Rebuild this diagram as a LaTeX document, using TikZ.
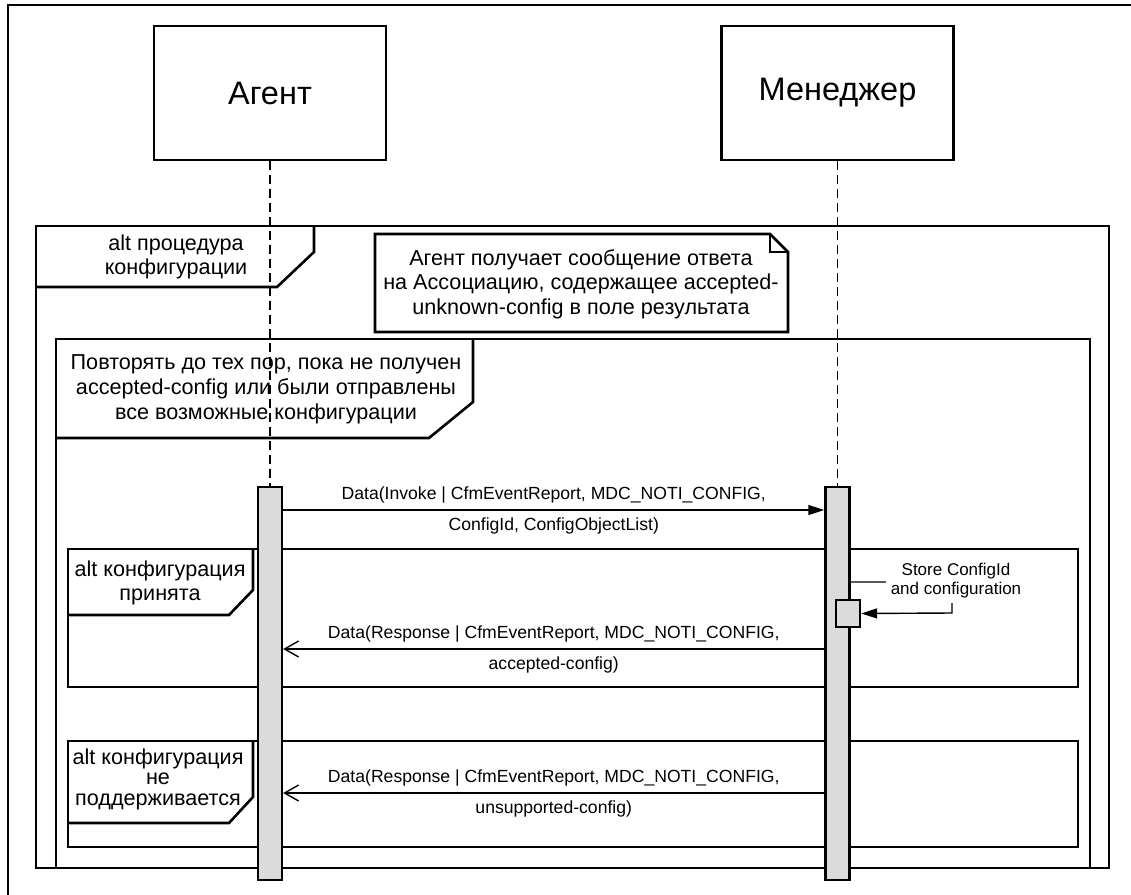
\documentclass[tikz,border=0pt]{standalone}
\usepackage{fontspec}
\setmainfont{Liberation Sans}
\usetikzlibrary{arrows.meta}

\tikzstyle{actor} = [draw, line width=1.3pt, minimum width=116pt, minimum height=67pt, font=\fontsize{16.25}{19}\selectfont]
\tikzstyle{act} = [draw, line width=1.2pt, fill=black!14, minimum width=12pt, minimum height=196.5pt, inner sep=0pt]
\tikzstyle{frame} = [line width=1.3pt]
\tikzstyle{tag} = [align=center, inner sep=0pt]
\tikzstyle{msg} = [line width=0.7pt]
\tikzstyle{msglabel} = [font=\fontsize{8.8}{10}\selectfont, inner sep=0pt]
\tikzstyle{life} = [line width=0.6pt, dash pattern=on 4.5pt off 2.5pt]

\begin{document}
\begin{tikzpicture}[x=0.5pt, y=-0.5pt]
\useasboundingbox (0,0) rectangle (1131,895);
%outer frame
\draw[frame] (8,895) -- (8,5) -- (1131,5);
%begin participants
\node[actor] (agent) at (270,93) {Агент};
\node[actor] (manager) at (837.5,93) {Менеджер};
%end participants
%begin alt procedure
\draw[frame] (36,226) rectangle (1109,868);
\draw[frame] (36,287) -- (277,287) -- (314,252) -- (314,226);
\node[tag, font=\fontsize{10.8}{11.75}\selectfont] (altproc) at (176,257) {alt процедура\\конфигурации};
%end alt procedure
%begin note
\draw[frame] (375,234) -- (770,234) -- (788,252) -- (788,332) -- (375,332) -- cycle;
\draw[frame] (770,234) -- (770,252) -- (788,252);
\node[tag, font=\fontsize{10.8}{12.25}\selectfont] (note) at (581,284) {Агент получает сообщение ответа\\на Ассоциацию, содержащее accepted-\\unknown-config в поле результата};
%end note
%begin loop
\draw[frame] (56,339) rectangle (1090,868);
\draw[frame] (56,438) -- (429,438) -- (473,402) -- (473,339);
\node[tag, font=\fontsize{10.8}{12.5}\selectfont] (loop) at (266,389) {Повторять до тех пор, пока не получен\\accepted-config или были отправлены\\все возможные конфигурации};
%end loop
%begin alt accepted
\draw[frame] (68,549) rectangle (1078,687);
\draw[frame] (68,615) -- (229,615) -- (253,590) -- (253,549);
\node[tag, font=\fontsize{10.8}{12}\selectfont] (altok) at (160,583) {alt конфигурация\\принята};
%end alt accepted
%begin alt unsupported
\draw[frame] (68,741) rectangle (1078,847);
\draw[frame] (68,823) -- (229,823) -- (253,797) -- (253,741);
\node[tag, font=\fontsize{10.8}{10.25}\selectfont] (altno) at (158,779) {alt конфигурация\\не\\поддерживается};
%end alt unsupported
%begin activations
\node[act] (actA) at (270,683.5) {};
\node[act] (actM) at (837.5,683.5) {};
\draw[life] (agent.south) -- (actA.north);
\draw[life] (manager.south) -- (actM.north);
%end activations
%begin invoke
\draw[msg, -{Triangle[length=8pt,width=5pt]}] (actA.east |- 0,510) --
    node[msglabel, above=3pt] (invoke1) {Data(Invoke | CfmEventReport, MDC\_NOTI\_CONFIG,}
    node[msglabel, below=3.5pt] (invoke2) {ConfigId, ConfigObjectList)}
    (actM.west |- 0,510);
%end invoke
%begin store
\node[act, minimum height=13.5pt] (store) at (848,613.5) {};
\draw[msg, -{Triangle[length=8pt,width=5pt]}] (actM.east |- 0,582) -| (952,613) -- (store.east);
\node[msglabel, font=\fontsize{8.5}{9.5}\selectfont, fill=white, inner sep=2.5pt, align=center] (storelbl) at (956,581) {Store ConfigId\\and configuration};
%end store
%begin response accepted
\draw[msg, -{Straight Barb[length=7pt,width=8pt]}] (actM.west |- 0,649) --
    node[msglabel, above=3pt] (resp1) {Data(Response | CfmEventReport, MDC\_NOTI\_CONFIG,}
    node[msglabel, below=3.5pt] (resp2) {accepted-config)}
    (actA.east |- 0,649);
%end response accepted
%begin response unsupported
\draw[msg, -{Straight Barb[length=7pt,width=8pt]}] (actM.west |- 0,793) --
    node[msglabel, above=3pt] (resp3) {Data(Response | CfmEventReport, MDC\_NOTI\_CONFIG,}
    node[msglabel, below=3.5pt] (resp4) {unsupported-config)}
    (actA.east |- 0,793);
%end response unsupported
\end{tikzpicture}
\end{document}
